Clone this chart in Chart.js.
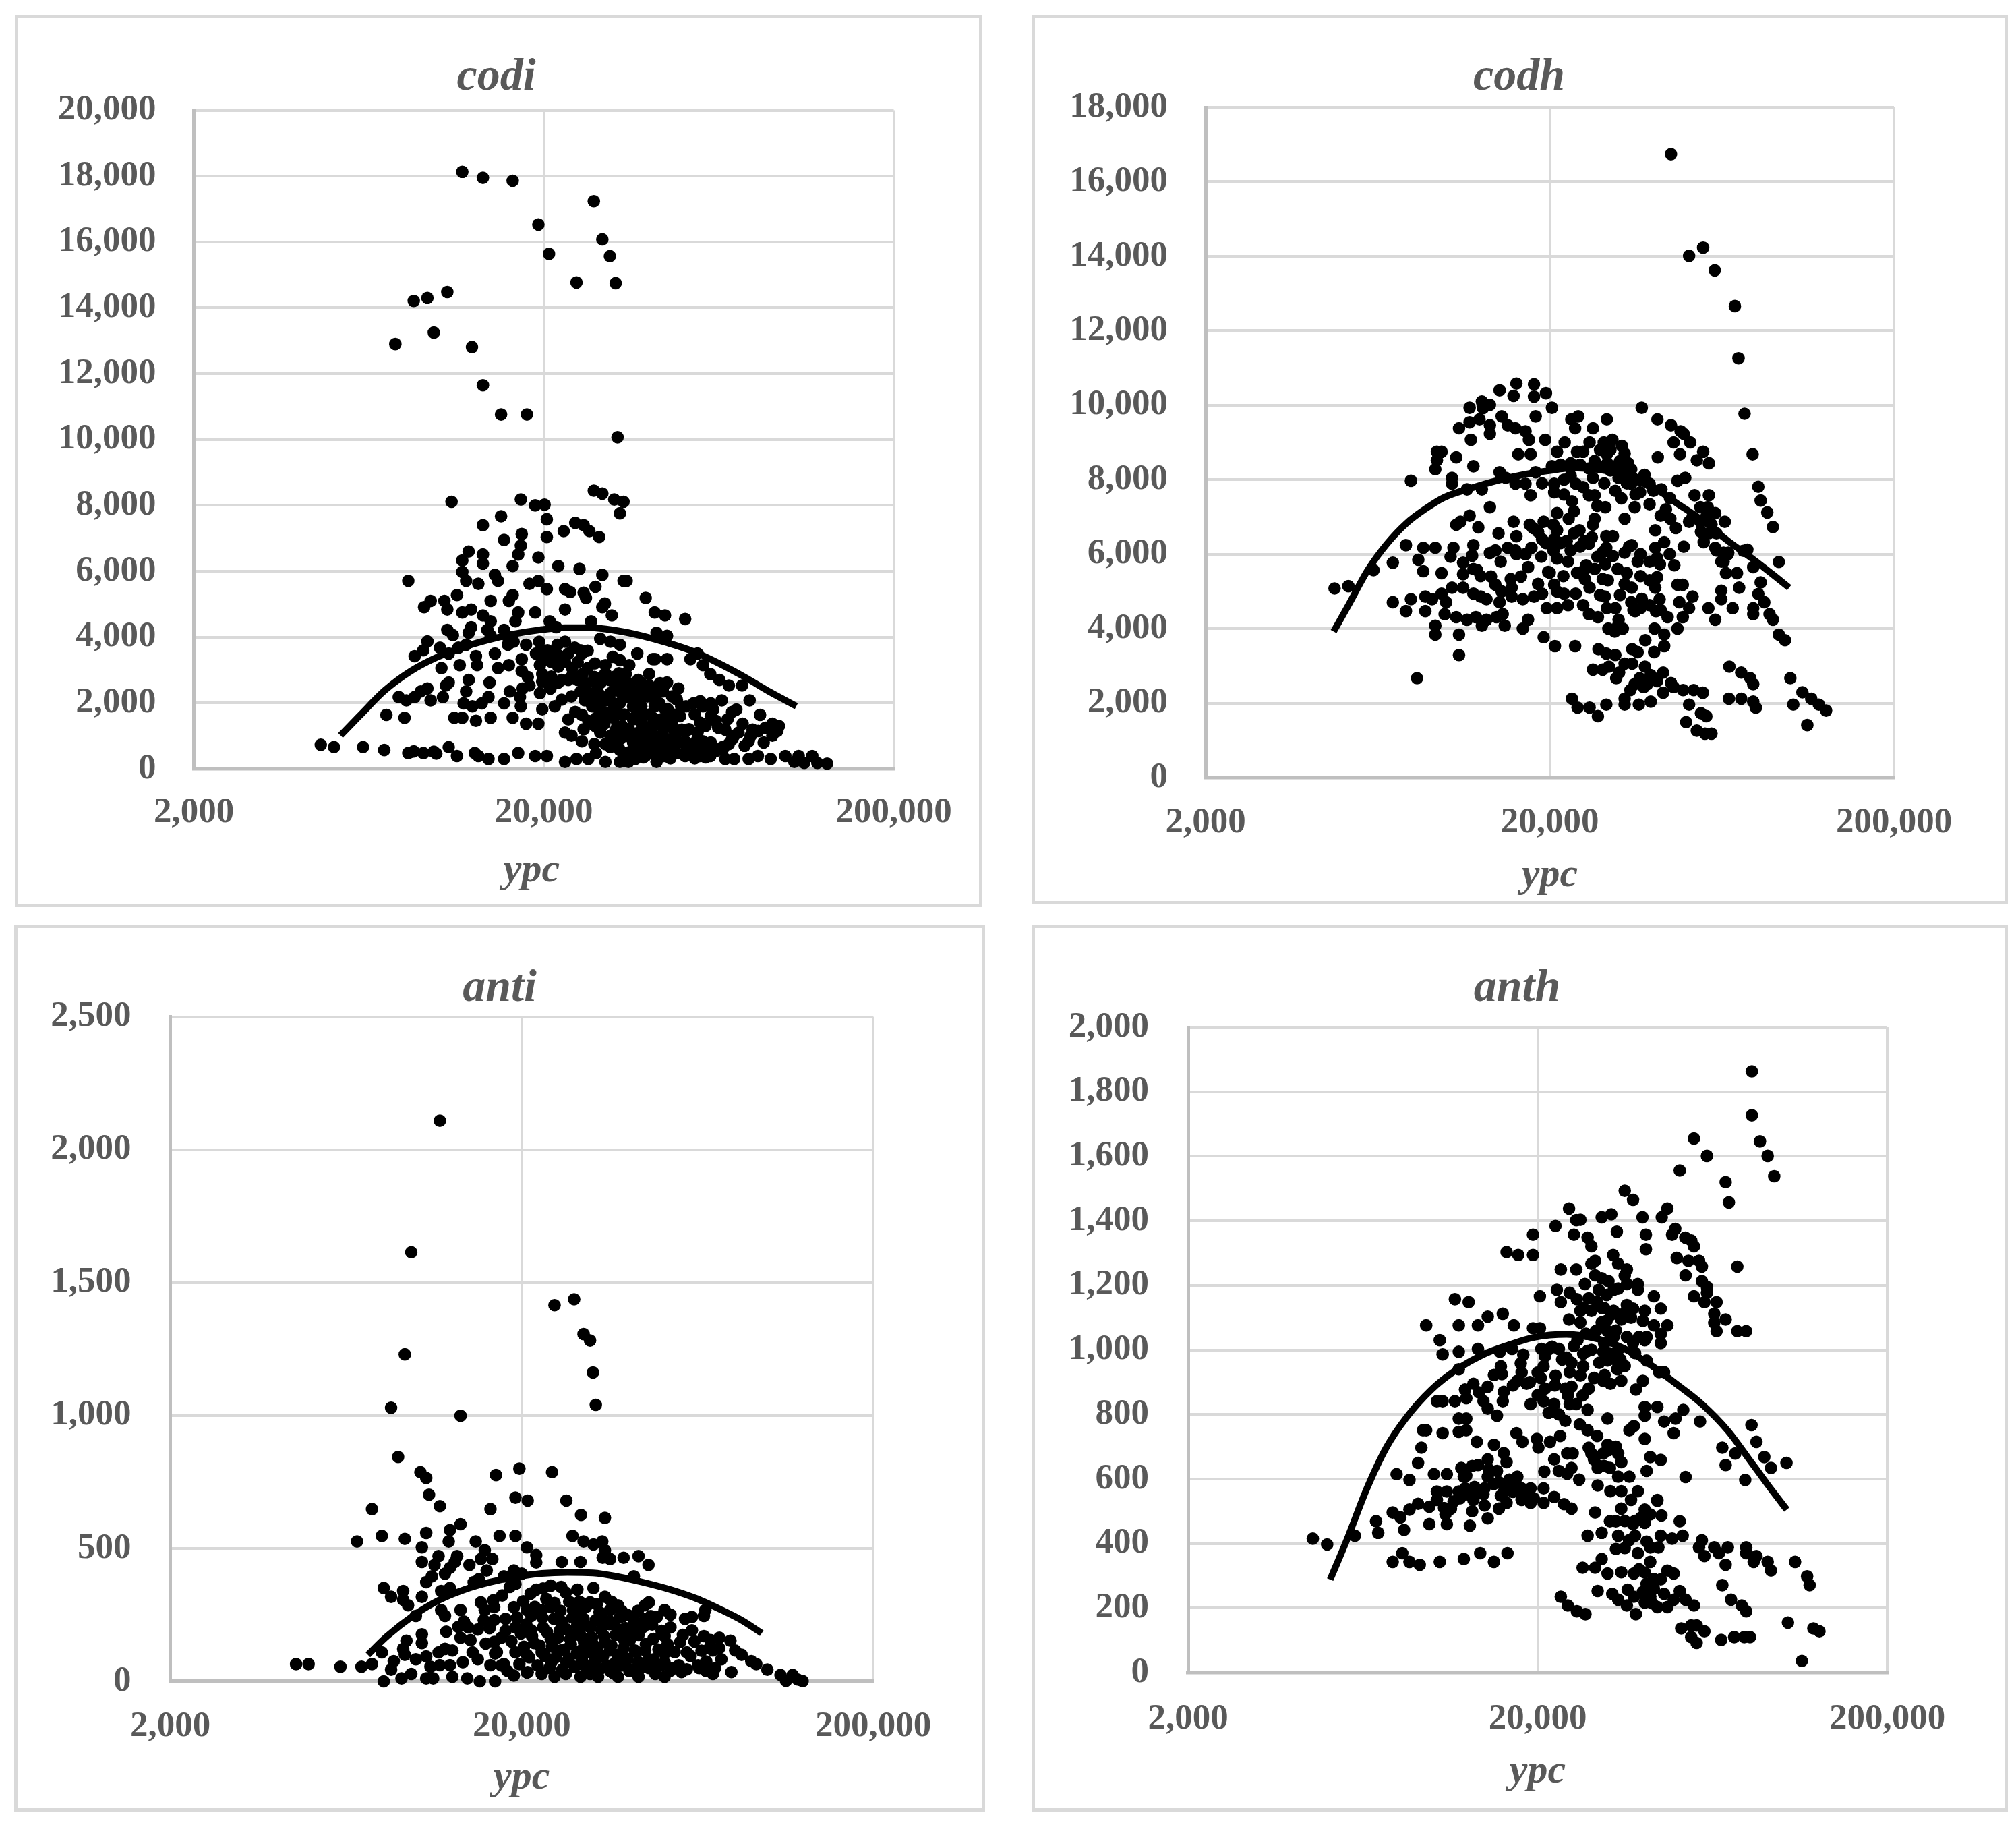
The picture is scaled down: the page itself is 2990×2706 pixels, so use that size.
<!DOCTYPE html>
<html>
<head>
<meta charset="utf-8">
<title>codi codh anti anth</title>
<script src="https://cdn.jsdelivr.net/npm/chart.js@4"></script>
<style>
  html, body { margin: 0; background: #fff; }
  .panel { position: absolute; box-sizing: border-box; border: 5px solid #d9d9d9; }
  canvas { display: block; }
</style>
</head>
<body>
<script>
const xTicks = [2000, 20000, 200000];
const codiYTicks = [0, 2000, 4000, 6000, 8000, 10000, 12000, 14000, 16000, 18000, 20000];
const codhYTicks = [0, 2000, 4000, 6000, 8000, 10000, 12000, 14000, 16000, 18000];
const antiYTicks = [0, 500, 1000, 1500, 2000, 2500];
const anthYTicks = [0, 200, 400, 600, 800, 1000, 1200, 1400, 1600, 1800, 2000];

// [ypc, value] pairs
const codiPoints = [
[11700,18130],[13400,17950],[16300,17860],[27800,17240],[19300,16530],[29400,16080],[20700,15640],[30900,15570],[24800,14770],[32100,14750],
[10600,14480],[9300,14300],[8500,14210],[9700,13250],[7530,12900],[12470,12810],[13400,11650],[15100,10760],[17900,10760],[32500,10070],
[10900,8110],[27800,8450],[29400,8360],[31800,8180],[33800,8110],[33000,7760],[17200,8180],[18900,8000],[20100,8020],[15100,7670],
[20400,7580],[13400,7400],[24600,7470],[26000,7400],[27000,7220],[28800,7040],[22800,7220],[20400,7040],[17300,7130],[15400,6950],
[17200,6780],[16900,6510],[12200,6600],[13400,6510],[11700,6330],[13400,6230],[19300,6420],[16300,6160],[22000,6160],[25300,6070],
[11700,5980],[14500,5890],[29400,5890],[12000,5710],[14800,5710],[13000,5620],[18200,5620],[19300,5710],[8200,5710],[20400,5460],
[28100,5530],[33800,5710],[34500,5710],[23000,5460],[23800,5370],[26000,5350],[11300,5280],[16300,5280],[26400,5190],[39100,5190],
[10400,5100],[9500,5100],[14100,5100],[15900,5100],[9100,4910],[10600,4840],[29900,5020],[29400,4910],[23000,4840],[12400,4840],
[11700,4750],[16900,4750],[18900,4750],[13400,4660],[31300,4660],[41500,4750],[44400,4660],[50700,4550],[16600,4480],[14100,4480],
[20800,4480],[27300,4480],[21700,4300],[12400,4300],[13800,4220],[10600,4220],[15400,4220],[12200,4130],[11000,4060],[14100,4040],
[15700,4040],[42000,4130],[45000,4040],
[8550,3420],[9050,3600],[9300,3870],[10100,3680],[10700,3500],[11400,3680],[12000,3770],[12800,3420],[14500,3500],[15800,3770],
[16400,3860],[17300,3330],[17800,3770],[19400,3860],[19800,3590],[20300,3330],[21100,3500],[21900,3770],[23000,3860],[24500,3680],
[25700,3500],[26700,3590],[29000,3950],[31000,3860],[33000,3770],[37000,3500],[41600,3330],[45000,3330],[52500,3330],[55000,3500],
[57000,3150],[59800,2880],[63500,2700],[67600,2530],[73700,2530],[77500,2080],
[11500,3150],[12900,3150],[14800,3060],[15900,3150],[17300,2970],[18000,2790],[19800,2880],[20900,2440],[23000,3240],[24100,3060],
[23500,2700],[25000,3240],[26700,3060],[25800,2880],[27900,2790],[30000,3150],[29100,2620],[31700,2790],[33000,2620],[35100,3150],
[34300,2880],[37900,2620],[40000,2880],[41000,3330],[45000,2620],[48500,2440],[40000,2530],[36500,2350],[10700,2620],[10200,3060],
[12200,2700],[14000,2620],[22000,2620],
[7700,2180],[8100,2080],[8550,2180],[8900,2350],[9300,2440],[9500,2080],[10300,2180],[10500,2530],[12000,2350],[11800,1990],
[12500,1900],[13300,1990],[13900,2180],[15400,1990],[16000,2350],[17100,2180],[17400,2440],[18200,2530],[17200,1900],[19800,1810],
[21500,1900],[24600,1725],[7100,1640],[8000,1550],[11100,1550],[11700,1550],[12800,1460],[14100,1550],[16300,1550],[17800,1370],
[19300,1370],[25700,1640],[26800,1460],[28300,1550],[29800,1370],[31700,1550],[32400,1280],[26200,2080],[27900,2180],[28800,2260],
[30200,2080],[31600,1990],[33000,2350],[34500,2180],[36300,1990],[38200,2260],[38200,1725],[41000,2170],[42800,1990],[43800,2350],
[45200,1810],[47500,2170],[49400,1900],[53600,1990],[57000,1900],[60000,1990],[64500,2080],[69000,1725],[62000,1460],[41000,1550],
[46400,1370],[49600,1190],[55000,1100],[66000,1190],[74000,1370],[83000,1640],[90000,1370],[79000,1190],[90000,1010],[70000,1010],
[77000,835],[36200,1550],[33700,1640],[46400,1550],
[23000,1100],[24000,1010],[25700,835],[27900,750],[30000,750],[33800,1010],[37300,1100],[40000,1190],[41600,925],[44400,835],
[47500,750],[50700,835],[53600,750],[57000,835],[60800,660],[64800,660],[67500,750],[31000,660],[33000,570],[36200,660],
[38200,750],[41000,660],
[4610,730],[5030,660],[6090,660],[7000,570],[8200,480],[8500,530],[9060,480],[9700,520],[9860,460],[10700,660],
[11300,390],[12700,480],[13000,390],[13900,300],[15400,300],[16900,480],[18900,390],[20400,390],[23000,210],[24800,300],
[26800,300],[28200,480],[30000,210],[33000,210],[34900,210],[36500,300],[39000,390],[42000,210],[44000,390],[50700,390],
[55900,390],[59800,390],[66000,300],[70000,300],[77000,300],[81800,390],[89000,300],[98000,390],[104000,210],[107000,390],
[111000,180],[117000,390],[121000,180],[129000,160],
[26000,2400],[28000,2000],[29000,1800],[31000,2300],[32000,2500],[33000,2000],[34000,1650],[35000,2600],[36000,1900],[37000,2200],
[38000,1400],[39000,2500],[40000,1650],[41000,1050],[42000,2300],[43000,1500],[44000,1200],[45000,700],[46000,900],[47000,1650],
[48000,2100],[36000,800],[38000,600],[40000,500],[42000,900],[44000,600],[46000,550],[48000,480],[34000,400],[37000,700],
[33000,900],[31000,1000],[29000,1100],[43000,700],[52000,600],[55000,450],[58000,720],[62000,540],[35000,1200],[37000,1050],
[40000,800],[42500,1350],[47000,1200],[51000,1150],[56000,1400],[60000,1600],
[19000,3500],[19500,3150],[20000,3400],[20500,3600],[21000,3250],[22000,3450],[23500,3500],[24000,2800],[25000,2700],[26500,2600],
[22500,2700],[19800,2650],[20700,2550],[25500,3600],
[24000,2200],[25500,2350],[27000,2300],[27500,1900],[28500,2500],[29500,2050],[30500,1700],[30800,2700],[32000,1800],[32800,2900],
[33500,1300],[34000,2200],[34800,1000],[35500,2400],[36000,1500],[36800,700],[37200,2700],[38000,1900],[38800,1100],[39500,2200],
[40500,1300],[41500,1900],[42000,600],[43000,2600],[43800,1000],[44500,1800],[45500,1450],[46500,2200],[47000,500],[48000,1100],
[49000,1600],[50000,800],[51000,1900],[52000,1200],[53000,500],[54000,1650],[55000,900],[56000,2050],[57000,550],[58000,1300],
[60000,800],[61000,1800],[63000,1250],[65000,600],[67000,1500],[69000,900],[71000,1800],[72000,1100],[75000,700],[78000,1000],
[82000,1150],[86000,1250],[85000,800],[93000,1150],[94000,1300],[28000,3200],[30000,2900],[31500,3400],[33000,3300],[34000,2600],
[22000,3100],[21000,2800],[19500,2300],[22500,2100],[23500,1500],[26000,1200],[28000,1300],[30000,1500],[32000,1150],[32000,700],
[35000,500],[38500,350],[41500,450],[46000,320],[50000,450],[54000,320],[58000,350]
];

const codhPoints = [
[45000,16740],[50800,14010],[55800,14230],[60300,13620],[69000,12660],[70700,11260],[73600,9770],[77700,8680],[80700,7810],[82000,7440],
[85700,7120],[89000,6730],[92600,5790],[82000,5240],[80700,4930],[84000,4710],[78000,4550],[78000,4390],[87000,4390],[89000,4240],
[92600,3840],[96500,3690],[100000,2670],[108400,2290],[115000,2120],[121000,1960],[127000,1800],[102000,1960],[112000,1410],[66500,2980],
[72000,2820],[76500,2670],[78000,2510],[66300,2120],[72000,2120],[78000,2040],[79400,1880],[59000,1180],[56500,1180],[53500,1260],
[49800,1490],[55000,1730],[57000,1650],[50800,1960],[55700,2280],[52400,2350],[48800,2350],[45800,2430],[42700,2280],[39300,2040],
[36300,1960],[33000,2120],[33000,1960],[29200,1960],[26100,1880],[27600,1650],[24100,1880],[23200,2120],[42700,2820],[39300,2750],
[36500,2670],[35300,2510],[38400,2510],[34300,2350],[37500,2430],[41000,2590],[45000,2540],[37800,2980],[34700,3060],[33000,3060],
[31200,2670],[31800,2820],[28500,2900],[26700,2900],[29700,2980],[29200,3330],[27700,3450],[31000,3290],[34700,3450],[37900,3690],
[40200,3370],[43000,3530],[36000,3370],[23700,3530],[20700,3530],[19200,3770],[16700,4000],[17300,4240],[10900,3290],[10900,3840],
[8230,2670],[9300,3840],[9300,4080],[7640,4470],[7000,4710],[7900,4790],[8700,4470],[8700,4860],[9700,4940],[9100,4790],
[10000,4710],[9900,4390],[10700,4310],[11500,4240],[12200,4310],[12700,4080],[13100,4240],[14000,4310],[14600,4390],[14800,4080],
[10400,5100],[11200,5100],[12000,4940],[12600,4860],[13100,4790],[14300,4710],[15500,4860],[16700,4790],[18000,4860],[19000,4940],
[19600,4550],[21000,4550],[22600,4630],[23800,4940],[25000,4630],[26000,4390],[27600,4310],[28900,4860],[29300,4550],[31000,4550],
[31700,4240],[29600,4000],[30900,3920],[32600,4000],[31600,4080],[34500,4710],[35400,4470],[36700,4550],[39000,4630],[41700,4790],
[40700,4470],[44000,4310],[48700,4310],[47600,4710],[52000,4860],[50800,4550],[40300,4000],[43000,3840],[47000,4000],[57800,4550],
[60500,4240],[63000,5020],[63000,4790],[68000,4550],[71000,5100],[70000,5490],[65000,5490],[64000,5800],[66000,6040],[75000,6120],
[78000,5650],[64000,6040],
[16000,10580],[18000,10560],[19500,10320],[18000,10230],[15700,10250],[14300,10400],[12700,10100],[13400,10010],[12800,9920],[11700,9930],
[20300,9930],[37000,9930],[41100,9620],[18200,9700],[14500,9700],[12500,9620],[11700,9540],[15100,9460],[13400,9460],[15900,9380],
[10900,9380],[17000,9300],[13400,9230],[11800,9070],[17400,9070],[19400,9070],[23100,9620],[24200,9700],[23700,9380],[26700,9380],
[29300,9620],[45000,9460],[48000,9300],[49000,9230],[45800,9000],[51200,9000],[55800,8750],[53500,8520],[58000,8440],[47800,8680],
[41200,8600],[22100,9000],[21000,8750],[26100,9000],[28700,9000],[30400,9070],[32400,8910],[25000,8750],[24000,8750],[29300,8680],
[16200,8680],[17600,8680],[9400,8750],[9700,8750],[10700,8600],[9400,8520],[9300,8280],[12000,8360],[20300,8360],[23000,8440],
[27700,8360],[29400,8440],[31000,8360],[33800,8440],[34500,8280],[37700,8130],[14300,8200],[18200,8200],[14900,8050],[10400,8050],
[7900,7970],[10400,7890],[15900,7890],[17000,7890],[20600,7890],[23800,7890],[26700,8050],[31700,8050],[34500,7890],[39000,7890],
[42200,7740],[47000,7970],[49500,8050],[11500,7740],[12700,7740],[17600,7580],[20600,7660],[26000,7580],[27000,7580],[32300,7500],
[36600,7660],[44700,7500],[52700,7580],[58000,7580],[23200,7420],[13400,7260],[29000,7260],[35300,7260],[39000,7340],[54800,7260],
[57500,7260],[60500,7100],[42000,7030],[44800,6950],[21000,7100],[22700,6950],[33000,6950],[50800,6870],[54800,6870],[64500,6870],
[27000,6950],[26700,6790],[11700,7030],[11000,6870],[10700,6790],[15700,6870],[17500,6790],[19200,6870],[12400,6720],[17900,6700],
[20500,6790],[40500,6640],[58000,6560],[61000,6560],[14200,6560],[16000,6480],[21000,6640],[23500,6560],[24400,6640],[29200,6480],
[30500,6480],[56000,6320],[43000,6320],[19000,6400],[20600,6400],[22400,6350],[25200,6350],[26000,6280],[7640,6240],[12000,6240],
[10500,6170],[8580,6170],[9300,6170],[17700,6170],[15900,6100],[13900,6100],[15100,6170],[29200,6170],[34600,6240],[40500,6170],
[60500,6170],[73000,6090],[65800,6000],[8300,5850],[7000,5770],[10300,5930],[11900,5960],[13400,6030],[17000,6000],[18900,5930],
[21000,5880],[27500,5930],[33000,6040],[36700,6000],[44600,6000],[39000,5800],[41800,5730],[11200,5770],[12300,5570],[14400,5800],
[17300,5650],[22600,5800],[29000,5730],[8580,5540],[9700,5490],[11200,5460],[12600,5410],[15400,5330],[19800,5520],[21900,5410],
[25200,5570],[33500,5490],[36700,5410],[41000,5380],[47000,5180],[48700,5180],[25300,5330],[28500,5330],[20600,5180],[26100,5100],
[34600,5100],[40500,5100],[13900,5180],[15500,5100],[22000,4940],[4740,5080],[5200,5140],[6150,5570],
[21500,6300],[22000,7600],[23000,6100],[23500,7150],[24000,5500],[24500,6200],[25000,7800],[25500,5700],[26000,8300],[26500,6450],
[27000,5600],[27500,7300],[28000,4900],[28500,6050],[28800,7900],[29500,5300],[30000,8250],[30500,5950],[31000,7700],[31500,5600],
[32000,4900],[32500,8200],[33000,5200],[33500,7900],[34000,6200],[34500,8100],[35000,4500],[35500,7600],[36000,5800],[36500,8000],
[37000,4800],[38000,7950],[39000,5300],[40000,7700],[41000,5900],[42000,4500],[43500,7200],[46000,5700],[46500,6700],[49000,6200],
[52000,7000],[55000,6600],[57000,7000],[59000,6800],[61000,6100],[63000,5800],[18500,5200],[19500,6300],[20000,5500],[20500,6100],
[21000,5000],[19000,7900],[22000,8000],[21500,8400],[23000,8100],[24500,8400],[27000,8500],[28000,8800],[30000,8800],[32000,8500],
[33000,8700],[16500,5400],[14500,5000],[13500,5400],[12000,5600],[16000,6000],[18500,6600]
];

const antiPoints = [
[11700,2109],[9700,1614],[9300,1230],[8500,1029],[13400,999],[24800,1415],[28200,1437],[30000,1306],[31300,1282],[31900,1162],
[32500,1040],[8900,844],[10300,787],[10700,765],[10900,702],[11700,659],[7500,648],[6800,526],[8000,547],[9300,536],
[10400,504],[10700,558],[12500,569],[13400,591],[12400,526],[14800,526],[16900,776],[19700,800],[24400,787],[19200,691],
[20800,680],[16300,648],[26800,680],[29500,626],[34500,615],[17300,547],[19200,547],[27900,547],[30000,526],[32000,515],
[33900,526],[34500,493],[20700,504],[22000,475],[22000,447],[34000,465],[35700,460],[39000,465],[43000,471],[45900,438],
[26000,449],[29400,449],[41700,395],[10400,449],[11300,438],[11600,471],[13100,471],[12900,449],[14200,438],[15300,460],
[16500,460],[15700,493],[12500,427],[12100,405],[11100,395],[10700,373],[11800,340],[12500,351],[14600,373],[15100,384],
[15900,417],[17800,395],[19000,417],[20000,405],[8100,351],[8500,318],[9200,340],[9200,307],[9500,286],[10400,318],
[10000,246],[11800,268],[12100,246],[12200,187],[13400,268],[13700,225],[14100,203],[13400,164],[15300,297],[15700,268],
[16600,305],[17600,323],[18500,355],[19200,366],[16700,279],[18000,235],[19000,279],[20200,301],[20700,268],[22000,345],
[23000,349],[24200,360],[25900,355],[26700,334],[28800,345],[32000,351],[34500,318],[31300,297],[32700,290],[37600,286],
[44800,286],[46000,297],[16700,231],[19200,203],[21300,246],[22800,268],[24200,279],[28000,268],[30000,235],[35700,268],
[35700,225],[39000,246],[42000,214],[48500,242],[51000,268],[53000,251],[58300,235],[61000,242],[66000,246],[66600,268],
[53000,203],[56500,148],[59000,109],[61000,192],[66000,170],[68500,126],[70000,116],[74000,83],[73000,164],[78500,153],
[81000,116],[84500,100],[90000,76],[93000,65],[100000,44],[109000,24],[118000,24],[113000,2],[122000,7],[126000,1],
[79000,35],[70000,28],[64000,50],[67000,39],[57000,35],[54000,50],[51000,17],[50000,61],[48000,28],[46000,50],
[43000,17],[40500,39],[37600,17],[35700,39],[33000,17],[31300,28],[29400,17],[26700,28],[24800,17],[22800,28],
[20700,33],[19000,22],[16800,0],[15200,0],[14000,11],[12700,17],[11200,11],[10700,11],[9700,28],[9100,11],
[8100,0],[4560,65],[4950,65],[6100,55],[7000,55],[7500,65],[8000,109],[8500,44],[8650,76],[9400,153],
[9200,122],[9300,100],[10400,177],[10400,144],[10000,83],[10700,94],[11000,55],[11600,109],[12100,122],[12700,116],
[11700,61],[12500,61],[13600,72],[14500,109],[15000,83],[15800,142],[16700,148],[16300,61],[17800,65],[16800,105],
[17500,164],[19200,109],[20700,100],[19700,65],[20800,35],[21700,144],[22800,109],[24200,159],[24300,72],[25800,116],
[26800,72],[27500,159],[29500,170],[29500,116],[30000,61],[32000,137],[32600,83],[34300,170],[35700,116],[37000,72],
[39000,159],[42000,116],[43000,72],[44900,116],[47500,83],[51000,105],[51000,170],[26000,225],[28800,214],[31300,203],
[25700,192],[23000,203],[21300,192],[34000,235],[37500,196],[41000,192],[47000,214],
[18000,190],[18700,150],[19400,240],[19900,180],[20300,130],[20600,215],[21000,90],[21400,170],[21800,280],[22200,60],
[22500,135],[22900,240],[23300,95],[23600,185],[24000,50],[24400,130],[24700,235],[25000,90],[25400,165],[25800,265],
[26100,45],[26500,120],[26900,195],[27200,85],[27600,140],[27900,240],[28300,55],[28700,105],[29000,185],[29300,260],
[29700,80],[30100,145],[30500,210],[30900,40],[31300,110],[31700,165],[32100,70],[32500,230],[32900,125],[33300,45],
[33700,195],[34100,95],[34500,150],[35000,60],[35500,215],[36000,135],[36500,30],[37000,175],[37500,100],[38000,240],
[38500,60],[39000,125],[39500,200],[40000,85],[40600,155],[41200,45],[41800,230],[42400,110],[43000,175],[43700,50],
[44400,205],[45100,140],[45800,80],[46600,245],[47400,160],[48200,55],[49000,120],[50000,190],[51000,70],[52000,140],
[53000,40],[54500,110],[56000,60],[57500,175],[59000,45],[60500,95],[62000,150],[63500,60],[65000,115],[67000,75],
[69000,155],[71000,50],[73000,125],[17000,110],[17500,60],[18200,40],[15000,195],[15600,230],[16200,200],[14300,155],
[13200,205],[21200,330],[23500,310],[24800,295],[27300,300],[29200,300],[30500,280],[33300,260],[36000,300],[38500,265],
[40000,250],[42800,265],[45000,235]
];

const anthPoints = [
[82000,1863],[82000,1727],[86500,1646],[91000,1601],[95000,1538],[56000,1655],[61000,1601],[69000,1520],[70500,1457],[51000,1556],
[35500,1493],[37500,1465],[39900,1411],[45300,1411],[47000,1438],[24600,1438],[22500,1384],[25800,1402],[26500,1403],[30500,1411],
[32500,1420],[33700,1366],[25400,1357],[19400,1357],[27800,1348],[40800,1357],[49500,1375],[48500,1357],[52900,1348],[55000,1339],
[56000,1321],[28500,1321],[40800,1312],[16300,1303],[17600,1294],[19400,1294],[32900,1294],[50000,1285],[54000,1276],[57900,1276],
[29200,1276],[28500,1267],[34000,1267],[36000,1249],[23300,1249],[25800,1249],[59000,1258],[74500,1258],[53000,1231],[59000,1213],
[29200,1231],[30500,1222],[31900,1213],[27300,1204],[36000,1204],[38700,1204],[38700,1186],[29900,1186],[33000,1186],[22700,1186],
[24700,1177],[61000,1195],[61000,1177],[11600,1157],[12700,1148],[20300,1166],[43000,1166],[25900,1157],[23300,1148],[56000,1166],
[60000,1148],[65000,1148],[45000,1128],[36000,1139],[26500,1121],[28500,1121],[31000,1130],[33000,1121],[37500,1128],[40500,1121],
[15900,1112],[14400,1103],[26500,1085],[24600,1094],[30500,1085],[34700,1094],[9600,1076],[11900,1076],[13500,1076],[17100,1076],
[64000,1112],[64000,1084],[69000,1094],[65000,1058],[74500,1058],[79000,1058],[47000,1076],[43000,1076],[45000,1049],[19400,1067],
[20300,1067],[41000,1040],[40500,1030],[37500,1021],[45000,1021],[10500,1030],[33000,1040],[29300,1058],[31700,1058],[32200,1030],
[27000,988],[10700,986],[11900,994],[13500,1003],[21600,1003],[25400,1012],[23000,1003],[27800,997],[30800,994],[15600,994],
[16900,1003],[18200,985],[20500,1003],[24200,976],[31700,967],[34000,958],[41000,967],[11900,940],[15700,949],[17900,958],
[20800,949],[27000,949],[33800,940],[24700,931],[31100,922],[44500,931],[46000,931],[15000,922],[15800,925],[13100,895],
[14400,886],[17500,904],[20400,913],[18600,895],[22400,890],[25000,886],[29000,913],[30800,904],[32300,895],[34700,904],
[40000,904],[38200,877],[12400,877],[10700,841],[10300,841],[11600,841],[12500,850],[13600,868],[14000,841],[14400,818],
[15900,841],[19100,832],[20800,841],[22300,832],[24400,859],[25800,832],[26900,859],[27800,814],[40500,823],[44000,823],
[21500,805],[24700,832],[52200,814],[49600,787],[46000,778],[15300,796],[11900,787],[12500,787],[40500,796],[31700,787],
[26400,769],[27800,751],[58300,778],[37700,764],[36600,751],[9400,751],[9600,751],[10700,742],[11900,746],[12500,751],
[17400,742],[29600,733],[23200,733],[49000,742],[19900,724],[40500,724],[13400,715],[15000,706],[18100,715],[21700,715],
[9300,697],[20100,697],[28000,697],[31700,706],[67500,697],[84500,715],[81800,767],[69000,643],[73500,679],[89000,668],
[103000,650],[93000,634],[78500,597],[53000,606],[42000,668],[45000,659],[24300,679],[25200,679],[28500,679],[30800,679],
[34000,679],[9100,650],[13500,643],[14400,661],[12100,634],[12300,607],[15300,625],[16300,652],[22300,661],[23000,625],
[25000,634],[24300,616],[26300,598],[29700,634],[32200,634],[34700,652],[10100,615],[11000,615],[7900,615],[8600,597],
[14400,607],[16600,598],[17500,607],[34000,607],[36600,607],[41000,625],[20900,623],[10300,561],[11000,561],[11900,561],
[12400,571],[13200,575],[14100,571],[16500,571],[17100,589],[18000,571],[19100,571],[20800,571],[29700,580],[32300,562],
[34700,562],[38700,562],[15700,548],[14000,553],[13100,535],[18000,535],[19100,526],[20800,526],[22300,544],[23800,522],
[25000,508],[44000,535],[37000,535],[34700,508],[7700,496],[8100,481],[8600,505],[9100,523],[9800,514],[10300,535],
[11300,508],[10900,490],[13000,500],[14100,518],[15500,508],[16300,526],[9800,460],[11000,460],[12800,455],[14400,478],
[6900,469],[7000,433],[8300,442],[6000,424],[4550,415],[5000,397],[29200,496],[44000,532],[45200,487],[40500,505],
[32200,469],[33500,469],[37500,460],[40500,464],[51000,469],[27800,424],[30500,433],[34000,424],[38000,424],[41000,406],
[45000,424],[48500,415],[52000,424],[59000,410],[57900,388],[64000,388],[70000,388],[79000,388],[42000,388],[44300,388],
[33500,383],[35500,386],[60000,361],[66000,370],[79000,370],[84500,361],[91000,343],[83000,343],[69000,334],[93000,316],
[109000,343],[118000,298],[120000,271],[7700,343],[8200,370],[8600,343],[9200,334],[10500,343],[12300,352],[13700,370],
[15000,343],[16400,370],[30500,352],[26900,325],[29200,325],[42000,343],[38700,370],[47000,316],[49000,307],[31700,307],
[34700,311],[37700,307],[45000,289],[41000,275],[67500,271],[71500,226],[76700,208],[79000,190],[29700,253],[32700,244],
[34000,226],[36200,257],[37700,235],[42000,235],[46000,244],[51000,253],[49000,226],[53000,226],[56000,208],[40500,217],
[44000,203],[47000,203],[36000,208],[38200,181],[23300,235],[24400,208],[25900,190],[27400,181],[51500,137],[55000,146],
[57000,146],[60000,128],[55000,110],[57000,92],[67000,101],[73000,110],[78000,110],[81000,110],[104000,155],[123000,137],
[128000,128],[114000,36],
[21000,980],[22000,1010],[22500,920],[23500,970],[24000,880],[25000,960],[26000,1030],[26500,920],[27500,1050],[28000,880],
[28500,1000],[29500,1060],[30000,960],[30500,1130],[31000,1020],[31500,1090],[32000,990],[32500,1110],[33000,975],[33500,1060],
[34000,1000],[34500,970],[35000,1110],[35500,950],[36000,1040],[37000,1100],[38000,990],[39000,1040],[40000,1090],[28000,1160],
[27000,1130],[29500,1150],[31500,1170],[34000,1190],[35500,1230],[21000,880],[20000,860],[20000,930],[19000,900],[18000,930],
[17000,890],[16000,870],[23000,800],[24000,780],[19500,540],[18300,550],[17000,560],[16000,560],[15000,585],[15500,590],
[13500,560],[12800,550],[12000,540],[11500,530],[10800,510],[12500,610],[14500,630],[16000,680],[13000,640],[29000,660],
[30000,640],[32000,690],[33500,700],[31000,640],[35500,470],[38000,470],[39500,480],[42000,490],[36500,410],[39000,320],
[40500,310],[43000,290],[40000,250],[42500,215],[43000,260]
];

const codiFitX = [5250, 5940, 7030, 8340, 9860, 11700, 13840, 16400, 19410, 23000, 27200, 32200, 38200, 45200, 53600, 63400, 75200, 89000, 105400];
const codiFitY = [1014, 1601, 2384, 2971, 3380, 3683, 3914, 4092, 4216, 4287, 4287, 4198, 4038, 3825, 3560, 3200, 2780, 2320, 1904];
const codhFitX = [4710, 5200, 5920, 6730, 7660, 8710, 9910, 11780, 13990, 16620, 19740, 23460, 27860, 33100, 39300, 46700, 55500, 65900, 78300, 89000, 99200];
const codhFitY = [3922, 4629, 5570, 6276, 6825, 7217, 7531, 7767, 7970, 8127, 8237, 8316, 8269, 8127, 7845, 7374, 6904, 6354, 5850, 5450, 5100];
const antiFitX = [7300, 8280, 9800, 11620, 13740, 16260, 19260, 22800, 26980, 31920, 37800, 44780, 53000, 62700, 74200, 84200, 96400];
const antiFitY = [100, 170, 246, 305, 345, 373, 393, 406, 410, 408, 393, 371, 345, 312, 268, 231, 181];
const anthFitX = [5100, 5730, 6500, 7380, 8380, 9940, 11780, 13940, 16520, 19580, 24200, 29920, 35460, 42000, 49780, 59000, 69800, 82800, 94000, 103200];
const anthFitY = [288, 419, 571, 697, 787, 877, 940, 985, 1015, 1039, 1048, 1033, 1003, 954, 895, 832, 751, 643, 562, 505];

const GRID = '#d9d9d9';
const AXIS = '#bfbfbf';
const TEXT = '#595959';
const SERIF = "'Liberation Serif', 'Times New Roman', serif";
const FRAME = 5;

function drawPanel(p) {
    const div = document.createElement('div');
    div.className = 'panel';
    div.style.left = p.frame[0] + 'px';
    div.style.top = p.frame[1] + 'px';
    div.style.width = (p.frame[2] - p.frame[0]) + 'px';
    div.style.height = (p.frame[3] - p.frame[1]) + 'px';
    const canvas = document.createElement('canvas');
    const left = p.frame[0] + FRAME, top = p.frame[1] + FRAME;
    canvas.width = p.frame[2] - p.frame[0] - 2 * FRAME;
    canvas.height = p.frame[3] - p.frame[1] - 2 * FRAME;
    div.appendChild(canvas);
    document.body.appendChild(div);

    const padRight = left + canvas.width - p.plot[2];
    const titleTop = p.titleMid - top - 34;
    // the title centres between the paddings; move it to where the reference has it
    const titleShift = p.titleX - left - (canvas.width - padRight) / 2;

    new Chart(canvas, {
        type: 'scatter',
        data: {
            datasets: [
                {
                    data: p.points.map(([x, y]) => ({ x, y })),
                    backgroundColor: '#000',
                    borderWidth: 0,
                    pointRadius: 9.3,
                    clip: false,
                },
                {
                    data: p.fitX.map((x, i) => ({ x, y: p.fitY[i] })),
                    showLine: true,
                    borderColor: '#000',
                    borderWidth: 10,
                    cubicInterpolationMode: 'monotone',
                    pointRadius: 0,
                    clip: false,
                },
            ],
        },
        plugins: [{
            id: 'titleShift',
            afterLayout(chart) {
                chart.titleBlock.left += titleShift;
                chart.titleBlock.right += titleShift;
            },
        }],
        options: {
            responsive: false,
            animation: false,
            layout: { padding: { left: 0, right: padRight, top: 0, bottom: 0 } },
            plugins: {
                legend: { display: false },
                tooltip: { enabled: false },
                title: {
                    display: true,
                    text: p.title,
                    color: TEXT,
                    font: { family: SERIF, size: 68, style: 'italic', weight: 'bold', lineHeight: 1 },
                    padding: { top: titleTop, bottom: p.plot[1] - top - 68 - titleTop },
                },
            },
            scales: {
                x: {
                    type: 'logarithmic',
                    min: 2000,
                    max: 200000,
                    afterBuildTicks: s => { s.ticks = xTicks.map(v => ({ value: v })); },
                    afterFit: s => {
                        s.height = top + canvas.height - p.plot[3];
                        if (p.xTitleShift) {
                            s.drawTitle = function () {
                                const c = this.ctx;
                                c.save();
                                c.translate(p.xTitleShift, 0);
                                Object.getPrototypeOf(this).drawTitle.call(this);
                                c.restore();
                            };
                        }
                    },
                    border: { color: AXIS, width: 5.5 },
                    grid: { color: GRID, lineWidth: 4, drawTicks: false },
                    ticks: {
                        color: TEXT,
                        font: { family: SERIF, size: 53, weight: 'bold' },
                        padding: p.xPad,
                        maxRotation: 0,
                        autoSkip: false,
                        callback: v => v.toLocaleString('en-US'),
                    },
                    title: {
                        display: true,
                        text: 'ypc',
                        color: TEXT,
                        font: { family: SERIF, size: 60, style: 'italic', weight: 'bold', lineHeight: 1 },
                        padding: { top: 0, bottom: p.xTitleBottom },
                    },
                },
                y: {
                    min: 0,
                    max: p.yTicks[p.yTicks.length - 1],
                    afterBuildTicks: s => { s.ticks = p.yTicks.map(v => ({ value: v })); },
                    afterFit: s => { s.width = p.plot[0] - left; },
                    border: { color: AXIS, width: 5 },
                    grid: { color: GRID, lineWidth: 4, drawTicks: false },
                    ticks: {
                        color: TEXT,
                        font: { family: SERIF, size: 53, weight: 'bold' },
                        padding: p.yPad,
                        autoSkip: false,
                        callback: v => v.toLocaleString('en-US'),
                    },
                },
            },
        },
    });
}

drawPanel({ title: 'codi', frame: [22, 22, 1457, 1345], plot: [287.5, 163.5, 1325.5, 1140], titleX: 736, titleMid: 115, xPad: 34, yPad: 56, xTitleBottom: 19, xTitleShift: -18, yTicks: codiYTicks, points: codiPoints, fitX: codiFitX, fitY: codiFitY });
drawPanel({ title: 'codh', frame: [1530, 22, 2978, 1341], plot: [1788, 159, 2809, 1153], titleX: 2253, titleMid: 115, xPad: 36, yPad: 56, xTitleBottom: 8, yTicks: codhYTicks, points: codhPoints, fitX: codhFitX, fitY: codhFitY });
drawPanel({ title: 'anti', frame: [21, 1371, 1461, 2686], plot: [252.5, 1507.5, 1295, 2493], titleX: 741, titleMid: 1466, xPad: 36, yPad: 58, xTitleBottom: 15, yTicks: antiYTicks, points: antiPoints, fitX: antiFitX, fitY: antiFitY });
drawPanel({ title: 'anth', frame: [1530, 1371, 2978, 2686], plot: [1762, 1523, 2799, 2480], titleX: 2250, titleMid: 1466, xPad: 38, yPad: 58, xTitleBottom: 24, yTicks: anthYTicks, points: anthPoints, fitX: anthFitX, fitY: anthFitY });
</script>
</body>
</html>
